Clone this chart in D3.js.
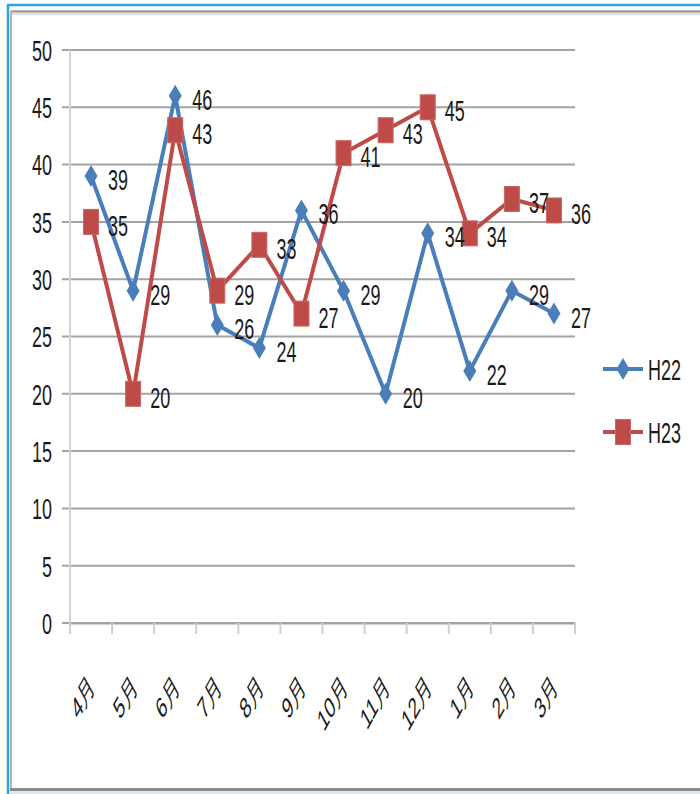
<!DOCTYPE html>
<html>
<head>
<meta charset="utf-8">
<script src="https://cdn.jsdelivr.net/npm/d3@7"></script>
<style>
  html, body { margin: 0; padding: 0; background: #fff; }
  svg { display: block; }
  text { font-family: "Liberation Sans", Arial, sans-serif; fill: #1a1a1a; }
</style>
</head>
<body>
<svg id="chart" width="700" height="794"></svg>
<script>
// Monthly counts, fiscal year April -> March
const months = ["4月", "5月", "6月", "7月", "8月", "9月", "10月", "11月", "12月", "1月", "2月", "3月"];
const seriesNames = ["H22", "H23"];
const h22 = [39, 29, 46, 26, 24, 36, 29, 20, 34, 22, 29, 27];
const h23 = [35, 20, 43, 29, 33, 27, 41, 43, 45, 34, 37, 36];
const yTicks = [0, 5, 10, 15, 20, 25, 30, 35, 40, 45, 50];

const colors = { H22: "#4a7ebb", H23: "#be4b48" };
const TX = 0.6;           // horizontal squeeze applied to glyphs
const TXL = 0.55;         // squeeze for the rotated month labels
const FS = 30;            // font size

const svg = d3.select("#chart");

// Outer frame
svg.append("rect").attr("x", 0).attr("y", 0).attr("width", 700).attr("height", 794).attr("fill", "#fff");
svg.append("line").attr("x1", 7).attr("x2", 700).attr("y1", 5).attr("y2", 5)
  .attr("stroke", "#2aa4e2").attr("stroke-width", 2.5);
svg.append("line").attr("x1", 8).attr("x2", 8).attr("y1", 4).attr("y2", 794)
  .attr("stroke", "#2aa4e2").attr("stroke-width", 2.5);
svg.append("line").attr("x1", 11).attr("x2", 700).attr("y1", 11.5).attr("y2", 11.5)
  .attr("stroke", "#9a9a9a").attr("stroke-width", 2.5);
svg.append("line").attr("x1", 11).attr("x2", 700).attr("y1", 14).attr("y2", 14)
  .attr("stroke", "#e2e2e2").attr("stroke-width", 2.5);
svg.append("line").attr("x1", 11).attr("x2", 11).attr("y1", 11).attr("y2", 790)
  .attr("stroke", "#b4b4b4").attr("stroke-width", 2);
svg.append("line").attr("x1", 10).attr("x2", 700).attr("y1", 789.5).attr("y2", 789.5)
  .attr("stroke", "#8a8a8a").attr("stroke-width", 3);
svg.append("line").attr("x1", 10).attr("x2", 700).attr("y1", 792.5).attr("y2", 792.5)
  .attr("stroke", "#dfe8f0").attr("stroke-width", 3);

// Scales
const x = d3.scaleBand().domain(months).range([70, 575]);
const y = d3.scaleLinear().domain([0, 50]).range([623, 50]);
const cx = m => x(m) + x.bandwidth() / 2;

// Horizontal gridlines + y labels
const yAxis = d3.axisLeft(y).tickValues(yTicks).tickSize(0).tickPadding(0);
svg.append("g").selectAll("line").data(yTicks).join("line")
  .attr("x1", 62).attr("x2", 575)
  .attr("y1", d => y(d)).attr("y2", d => y(d))
  .attr("stroke", "#a3a3a3").attr("stroke-width", 2);
const yLab = svg.append("g").attr("transform", "translate(52,0)").call(yAxis);
yLab.select(".domain").remove();
yLab.selectAll(".tick").attr("transform", null);
yLab.selectAll("text")
  .attr("font-size", FS)
  .attr("x", null).attr("y", null).attr("dy", null)
  .attr("text-anchor", "end")
  .attr("transform", d => `translate(0,${y(d) + FS * 0.36}) scale(${TX},1)`);

// Vertical axis line
svg.append("line").attr("x1", 70).attr("x2", 70).attr("y1", 50).attr("y2", 623)
  .attr("stroke", "#d4d4d4").attr("stroke-width", 2);

// Category axis
const xAxis = d3.axisBottom(x).tickSize(0).tickFormat(() => "");
const gx = svg.append("g").attr("transform", "translate(0,623)").call(xAxis);
gx.select(".domain").attr("stroke", "#a3a3a3").attr("stroke-width", 2);
gx.selectAll(".tick").remove();
const edges = months.map(m => x(m)).concat([x(months[months.length - 1]) + x.bandwidth()]);
gx.selectAll(".edge").data(edges).join("line")
  .attr("x1", d => d).attr("x2", d => d).attr("y1", 0).attr("y2", 11)
  .attr("stroke", "#cfcfcf").attr("stroke-width", 2);
gx.selectAll(".mlab").data(months).join("text")
  .attr("font-size", FS)
  .attr("text-anchor", "end")
  .attr("transform", m => `translate(${cx(m) + 5},${688 - 623}) scale(${TXL},1) rotate(-45)`)
  .text(m => m);

// Series
const series = [
  { name: "H22", values: h22, shape: "diamond" },
  { name: "H23", values: h23, shape: "square" }
];
const line = d3.line().x((d, i) => cx(months[i])).y(d => y(d));

function marker(sel, shape, color) {
  if (shape === "diamond") {
    sel.append("path").attr("d", "M0,-11 L6.5,0 L0,11 L-6.5,0 Z").attr("fill", color);
  } else {
    sel.append("rect").attr("x", -7.5).attr("y", -12.5).attr("width", 15).attr("height", 25)
      .attr("fill", color).attr("stroke", "#c86764").attr("stroke-width", 1);
  }
}

series.forEach(s => {
  const g = svg.append("g");
  g.append("path").datum(s.values).attr("d", line)
    .attr("fill", "none").attr("stroke", colors[s.name]).attr("stroke-width", 4)
    .attr("stroke-linejoin", "round");
  g.selectAll(".pt").data(s.values).join("g")
    .attr("transform", (d, i) => `translate(${cx(months[i])},${y(d)})`)
    .each(function () { marker(d3.select(this), s.shape, colors[s.name]); });
});

// Value labels
series.forEach(s => {
  svg.append("g").selectAll("text").data(s.values).join("text")
    .attr("font-size", FS)
    .attr("transform", (d, i) => `translate(${cx(months[i]) + 17},${y(d) + 14}) scale(${TX},1)`)
    .text(d => d);
});

// Legend
const legend = svg.append("g");
series.forEach((s, k) => {
  const ly = 369 + k * 63;
  const lg = legend.append("g").attr("transform", `translate(0,${ly})`);
  lg.append("line").attr("x1", 603).attr("x2", 643).attr("y1", 0).attr("y2", 0)
    .attr("stroke", colors[s.name]).attr("stroke-width", 4);
  const mk = lg.append("g").attr("transform", "translate(623,0)");
  marker(mk, s.shape, colors[s.name]);
  lg.append("text").attr("font-size", FS)
    .attr("transform", `translate(648,${FS * 0.36}) scale(${TX},1)`)
    .text(s.name);
});
</script>
</body>
</html>
